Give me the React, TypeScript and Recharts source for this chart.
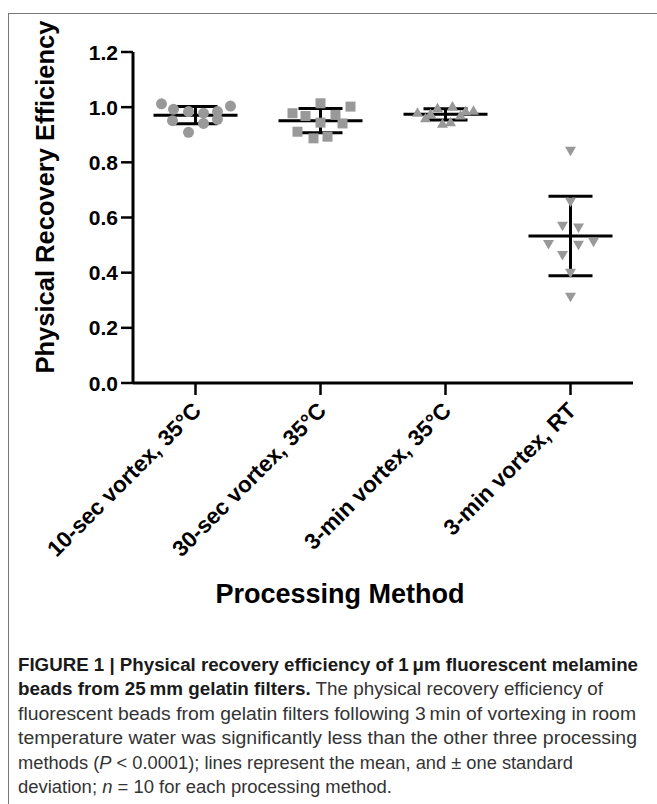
import React from "react";
import { ComposedChart, Scatter, XAxis, YAxis, ReferenceLine } from "recharts";

// ---- data ----
const categories = [
  "10-sec vortex, 35°C",
  "30-sec vortex, 35°C",
  "3-min vortex, 35°C",
  "3-min vortex, RT",
];
const yTicks = [0, 0.2, 0.4, 0.6, 0.8, 1.0, 1.2];

const tenSec35 = [1.012, 0.992, 0.984, 0.978, 0.984, 1.004, 0.951, 0.941, 0.956, 0.909];
const thirtySec35 = [1.014, 1.002, 0.978, 0.968, 0.972, 0.911, 0.887, 0.893, 0.941, 0.944];
const threeMin35 = [0.996, 1.002, 0.987, 0.94, 0.945, 0.975, 0.98, 0.97, 0.96, 0.985];
const threeMinRT = [0.842, 0.657, 0.57, 0.564, 0.504, 0.501, 0.512, 0.464, 0.4, 0.313];

// ---- layout: horizontal scatter offsets (fraction of category spacing) ----
const jitter10 = [-0.272, -0.176, -0.056, 0.064, 0.176, 0.28, -0.184, 0.064, 0.176, -0.056];
const jitter30 = [0, 0.24, -0.224, -0.12, 0.12, -0.184, -0.056, 0.056, 0.176, 0];
const jitter3m = [-0.064, 0.056, 0.224, -0.024, 0.04, -0.12, -0.224, 0.12, -0.16, 0.16];
const jitterRT = [0, 0, -0.064, 0.064, -0.176, 0.064, 0.184, -0.064, 0, 0];

const groups = [
  { values: tenSec35, jitter: jitter10 },
  { values: thirtySec35, jitter: jitter30 },
  { values: threeMin35, jitter: jitter3m },
  { values: threeMinRT, jitter: jitterRT },
];

const MEAN_HALF = 0.336;
const CAP_HALF = 0.176;
const MARK = "#999999";
const FONT = "'Liberation Sans', Arial, Helvetica, sans-serif";

const stats = groups.map((g) => {
  const n = g.values.length;
  const mean = g.values.reduce((a, b) => a + b, 0) / n;
  const sd = Math.sqrt(g.values.reduce((a, b) => a + (b - mean) * (b - mean), 0) / (n - 1));
  return { mean, sd };
});

const pointData = groups.map((g, gi) =>
  g.values.map((v, i) => ({ x: gi + 1 + g.jitter[i], y: v }))
);

const CircleShape = (p: any) => <circle cx={p.cx} cy={p.cy} r={5.5} fill={MARK} />;
const SquareShape = (p: any) => <rect x={p.cx - 5} y={p.cy - 5} width={10} height={10} fill={MARK} />;
const TriUpShape = (p: any) => (
  <polygon points={`${p.cx},${p.cy - 5.5} ${p.cx + 5.5},${p.cy + 4} ${p.cx - 5.5},${p.cy + 4}`} fill={MARK} />
);
const TriDownShape = (p: any) => (
  <polygon points={`${p.cx - 5.5},${p.cy - 4} ${p.cx + 5.5},${p.cy - 4} ${p.cx},${p.cy + 5.5}`} fill={MARK} />
);
const shapes = [CircleShape, SquareShape, TriUpShape, TriDownShape];

const XTick = (props: any) => {
  const { x, y, payload } = props;
  const px = x + 7;
  const py = y + 15;
  return (
    <text
      x={px}
      y={py}
      transform={`rotate(-45, ${px}, ${py})`}
      textAnchor="end"
      fontFamily={FONT}
      fontWeight="bold"
      fontSize={22.5}
      fill="#000"
    >
      {categories[payload.value - 1]}
    </text>
  );
};

const YTick = (props: any) => {
  const { x, y, payload } = props;
  return (
    <text x={x} y={y} dy="0.36em" textAnchor="end" fontFamily={FONT} fontWeight="bold" fontSize={21} fill="#000">
      {Number(payload.value).toFixed(1)}
    </text>
  );
};

const captionLines: { parts: { t: string; b?: boolean; i?: boolean }[]; w?: number }[] = [
  { parts: [{ t: "FIGURE 1 | Physical recovery efficiency of 1\u2009\u03bcm fluorescent melamine", b: true }], w: 620 },
  {
    parts: [
      { t: "beads from 25\u2009mm gelatin filters.", b: true },
      { t: " The physical recovery efficiency of" },
    ],
    w: 585,
  },
  { parts: [{ t: "fluorescent beads from gelatin filters following 3\u2009min of vortexing in room" }], w: 618 },
  { parts: [{ t: "temperature water was significantly less than the other three processing" }], w: 619 },
  {
    parts: [
      { t: "methods (" },
      { t: "P", i: true },
      { t: " < 0.0001); lines represent the mean, and \u00b1 one standard" },
    ],
    w: 555,
  },
  {
    parts: [{ t: "deviation; " }, { t: "n", i: true }, { t: " = 10 for each processing method." }],
    w: 374,
  },
];

export default function App() {
  return (
    <div style={{ position: "absolute", left: 0, top: 0, width: 657, height: 804, background: "#fff" }}>
      <div style={{ position: "absolute", left: 0, top: 0 }}>
        <ComposedChart width={657} height={620} margin={{ top: 52, right: 24, left: 0, bottom: 0 }}>
          <XAxis
            type="number"
            dataKey="x"
            domain={[0.5, 4.5]}
            ticks={[1, 2, 3, 4]}
            allowDataOverflow
            height={237}
            tickSize={12}
            tickMargin={2}
            axisLine={{ stroke: "#000", strokeWidth: 3 }}
            tickLine={{ stroke: "#000", strokeWidth: 2.5 }}
            tick={<XTick />}
            interval={0}
          />
          <YAxis
            type="number"
            dataKey="y"
            domain={[0, 1.2]}
            ticks={yTicks}
            width={133}
            tickSize={12}
            tickMargin={3}
            axisLine={{ stroke: "#000", strokeWidth: 3 }}
            tickLine={{ stroke: "#000", strokeWidth: 2.5 }}
            tick={<YTick />}
            interval={0}
          />
          {pointData.map((d, gi) => (
            <Scatter key={`s${gi}`} data={d} shape={shapes[gi]} isAnimationActive={false} />
          ))}
          {stats.map((s, gi) => {
            const c = gi + 1;
            const lo = s.mean - s.sd;
            const hi = s.mean + s.sd;
            const lp = { stroke: "#000", strokeWidth: 3, ifOverflow: "visible" as const };
            return (
              <React.Fragment key={`m${gi}`}>
                <ReferenceLine {...lp} segment={[{ x: c - MEAN_HALF, y: s.mean }, { x: c + MEAN_HALF, y: s.mean }]} />
                <ReferenceLine {...lp} segment={[{ x: c - CAP_HALF, y: hi }, { x: c + CAP_HALF, y: hi }]} />
                <ReferenceLine {...lp} segment={[{ x: c - CAP_HALF, y: lo }, { x: c + CAP_HALF, y: lo }]} />
                <ReferenceLine {...lp} segment={[{ x: c, y: lo }, { x: c, y: hi }]} />
              </React.Fragment>
            );
          })}
        </ComposedChart>
      </div>
      <svg width={657} height={804} style={{ position: "absolute", left: 0, top: 0, pointerEvents: "none" }}>
        <line x1={8.5} y1={13} x2={8.5} y2={804} stroke="#777" strokeWidth={1} />
        <line x1={8} y1={13.5} x2={657} y2={13.5} stroke="#777" strokeWidth={1} />
        <text
          x={54}
          y={197}
          transform="rotate(-90, 54, 197)"
          textAnchor="middle"
          fontFamily={FONT}
          fontWeight="bold"
          fontSize={25.5}
          fill="#000"
        >
          Physical Recovery Efficiency
        </text>
        <text x={340} y={603} textAnchor="middle" fontFamily={FONT} fontWeight="bold" fontSize={27} fill="#000">
          Processing Method
        </text>
        {captionLines.map((ln, i) => (
          <text
            key={i}
            x={18}
            y={671 + i * 24.4}
            fontFamily="'Liberation Sans Narrow', 'Liberation Sans', Arial, sans-serif"
            fontSize={17.5}
            fill="#333"
            textLength={ln.w}
            lengthAdjust="spacingAndGlyphs"
          >
            {ln.parts.map((p, j) => (
              <tspan
                key={j}
                fontWeight={p.b ? "bold" : "normal"}
                fontStyle={p.i ? "italic" : "normal"}
                fill={p.b ? "#1a1a1a" : "#333"}
              >
                {p.t}
              </tspan>
            ))}
          </text>
        ))}
      </svg>
    </div>
  );
}
